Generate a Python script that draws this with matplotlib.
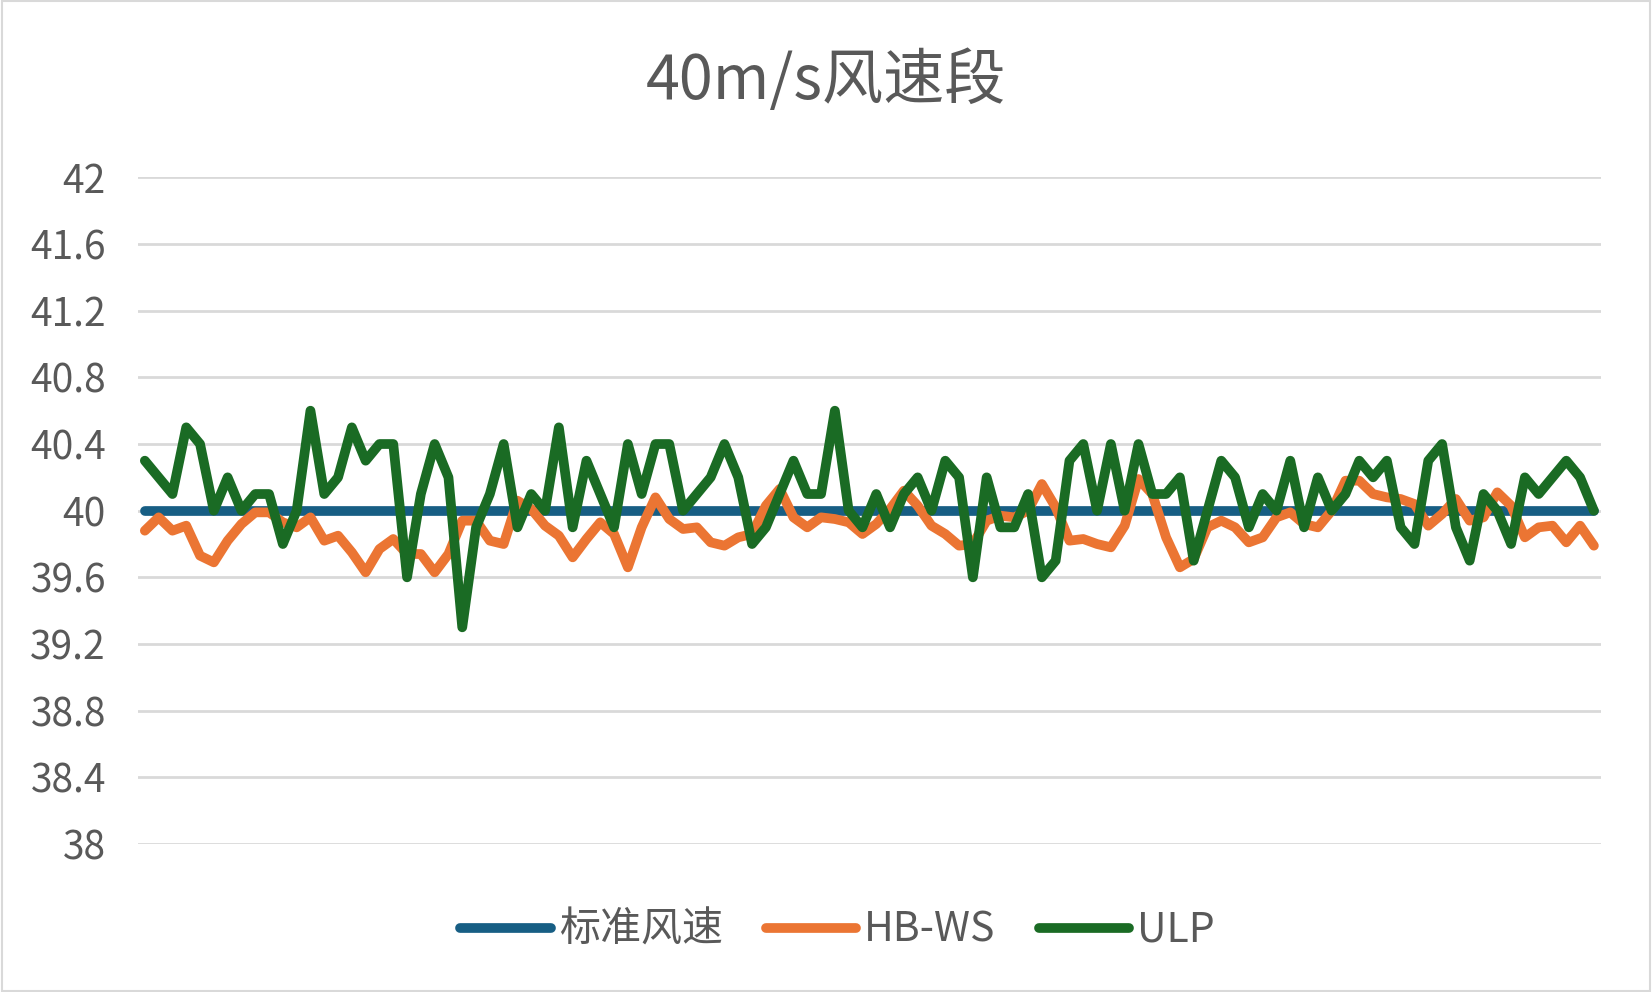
import numpy as np
import matplotlib
matplotlib.use("Agg")
import matplotlib.pyplot as plt

# Fuente con soporte para chino
plt.rcParams['font.family'] = ['Noto Sans CJK SC', 'DejaVu Sans']

# Datos (106 muestras)
titulo = "40m/s风速段"
series_nombres = ["标准风速", "HB-WS", "ULP"]

estandar = [40.0] * 106

hb_ws = [39.88, 39.96, 39.88, 39.91, 39.73, 39.69, 39.82, 39.92, 39.99, 39.99,
         39.93, 39.90, 39.96, 39.82, 39.85, 39.75, 39.63, 39.77, 39.83, 39.74,
         39.74, 39.63, 39.74, 39.94, 39.94, 39.82, 39.80, 40.06, 40.01, 39.91,
         39.85, 39.72, 39.83, 39.93, 39.86, 39.66, 39.90, 40.08, 39.95, 39.89,
         39.90, 39.81, 39.79, 39.84, 39.86, 40.03, 40.13, 39.96, 39.90, 39.96,
         39.95, 39.93, 39.86, 39.92, 40.01, 40.12, 40.03, 39.91, 39.86, 39.79,
         39.80, 39.94, 39.97, 39.96, 40.00, 40.16, 40.02, 39.82, 39.83, 39.80,
         39.78, 39.91, 40.19, 40.10, 39.84, 39.66, 39.71, 39.90, 39.94, 39.90,
         39.81, 39.84, 39.96, 39.99, 39.92, 39.90, 40.00, 40.18, 40.18, 40.10,
         40.08, 40.07, 40.04, 39.91, 39.98, 40.07, 39.94, 39.96, 40.11, 40.03,
         39.84, 39.90, 39.91, 39.81, 39.91, 39.79]

ulp = [40.3, 40.2, 40.1, 40.5, 40.4, 40.0, 40.2, 40.0, 40.1, 40.1,
       39.8, 40.0, 40.6, 40.1, 40.2, 40.5, 40.3, 40.4, 40.4, 39.6,
       40.1, 40.4, 40.2, 39.3, 39.9, 40.1, 40.4, 39.9, 40.1, 40.0,
       40.5, 39.9, 40.3, 40.1, 39.9, 40.4, 40.1, 40.4, 40.4, 40.0,
       40.1, 40.2, 40.4, 40.2, 39.8, 39.9, 40.1, 40.3, 40.1, 40.1,
       40.6, 40.0, 39.9, 40.1, 39.9, 40.1, 40.2, 40.0, 40.3, 40.2,
       39.6, 40.2, 39.9, 39.9, 40.1, 39.6, 39.7, 40.3, 40.4, 40.0,
       40.4, 40.0, 40.4, 40.1, 40.1, 40.2, 39.7, 40.0, 40.3, 40.2,
       39.9, 40.1, 40.0, 40.3, 39.9, 40.2, 40.0, 40.1, 40.3, 40.2,
       40.3, 39.9, 39.8, 40.3, 40.4, 39.9, 39.7, 40.1, 40.0, 39.8,
       40.2, 40.1, 40.2, 40.3, 40.2, 40.0]

y_ticks = [38, 38.4, 38.8, 39.2, 39.6, 40, 40.4, 40.8, 41.2, 41.6, 42]
y_labels = ["38", "38.4", "38.8", "39.2", "39.6", "40", "40.4", "40.8", "41.2", "41.6", "42"]

colores = ["#175E84", "#EB7533", "#1A6B24"]

# Figura
fig = plt.figure(figsize=(16.52, 9.92), dpi=100)
ax = fig.add_axes([0.0835, 0.1492, 0.8855, 0.672])

x = np.arange(len(estandar))
for datos, nombre, color in zip([estandar, hb_ws, ulp], series_nombres, colores):
    ax.plot(x, datos, color=color, lw=7, label=nombre,
            solid_joinstyle='round', solid_capstyle='round')

ax.set_xlim(-0.5, len(estandar) - 0.5)
ax.set_ylim(38, 42)
ax.set_yticks(y_ticks)
ax.set_yticklabels(y_labels)
ax.set_xticks([])
ax.tick_params(axis='y', length=0, pad=23, labelsize=28, labelcolor="#595959")
ax.grid(axis='y', color="#D9D9D9", lw=2)
ax.set_axisbelow(True)
for s in ax.spines.values():
    s.set_visible(False)

# Titulo
fig.text(0.5, 0.918, titulo, ha='center', va='center', fontsize=44, color="#595959")

# Leyenda
leg = fig.legend(loc='center', bbox_to_anchor=(0.507, 0.062), ncol=3, frameon=False,
                 fontsize=29.5, handlelength=2.2, handletextpad=0.2, columnspacing=1.05)
for t in leg.get_texts():
    t.set_color("#595959")

# Borde del area del grafico
fig.patches.append(plt.Rectangle((0.001, 0.001), 0.998, 0.998, transform=fig.transFigure,
                                 fill=False, edgecolor="#D9D9D9", lw=1.5))

fig.savefig("out.png", dpi=100)
